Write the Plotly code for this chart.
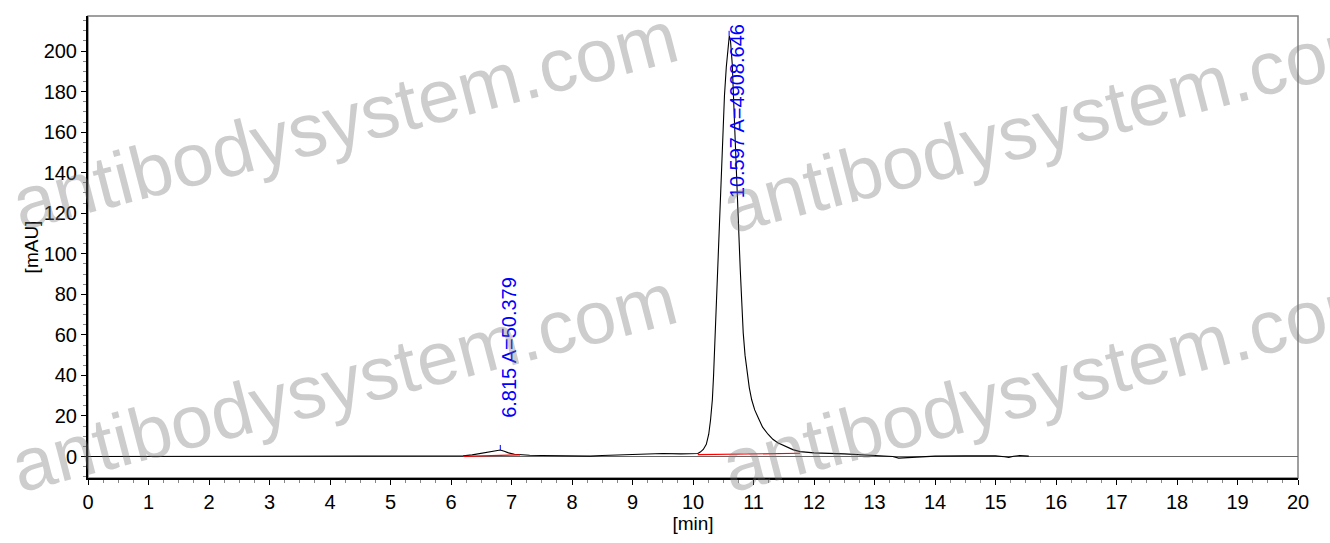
import plotly.graph_objects as go

# Chromatogram signal
time_min = [0, 6.1, 6.2, 6.35, 6.5, 6.6, 6.68, 6.75, 6.815, 6.88, 6.95, 7.05, 7.15,
            7.3, 7.5, 7.8, 8.0, 8.3, 8.5, 8.8, 9.0, 9.3, 9.5, 9.8, 10.0, 10.08,
            10.12, 10.17, 10.22, 10.26, 10.29, 10.32, 10.34, 10.36, 10.39, 10.42,
            10.44, 10.47, 10.49, 10.52, 10.55, 10.58, 10.60, 10.62, 10.65, 10.67,
            10.69, 10.71, 10.73, 10.755, 10.78, 10.805, 10.83, 10.86, 10.89, 10.93,
            10.97, 11.02, 11.08, 11.15, 11.24, 11.32, 11.4, 11.48, 11.55, 11.65,
            11.77, 11.9, 12.0, 12.5, 13.0, 13.3, 13.4, 13.5, 13.7,
            14.0, 14.5, 15.0, 15.15, 15.22, 15.3, 15.4, 15.55]
signal_mau = [0, 0, 0.3, 0.8, 1.5, 1.9, 2.2, 2.7, 3.2, 2.6, 1.8, 1.1, 0.8,
              0.6, 0.5, 0.4, 0.2, 0.2, 0.5, 0.7, 0.8, 1.1, 1.5, 1.3, 1.2, 1.5,
              2.2, 3.5, 6, 11, 18, 28, 40, 55, 82, 108,
              124, 146, 160, 178, 192, 203, 207.5, 205, 193, 177,
              160, 143, 126, 110, 93, 77, 61, 50, 42, 34,
              28, 23, 19, 14.5, 11, 8.5, 6.8, 5.6, 4.8, 3.4,
              2.4, 2.0, 1.8, 1.3, 0.7, 0, -0.8, -0.6, -0.2,
              0.2, 0.3, 0.3, -0.1, -0.4, 0.1, 0.5, 0.2]

# Integration baselines (red)
base1_t = [6.2, 7.14]
base1_v = [0.1, 0.8]
base2_t = [10.08, 11.77]
base2_v = [0.9, 1.6]

# Peak annotations
peak_rt = [6.815, 10.597]
peak_area = [50.379, 4908.646]
peak_height = [3.2, 207.5]
label_base = [18, 126.5]

x_ticks = list(range(0, 21))
y_ticks = list(range(0, 201, 20))

FONT = "Arial, Liberation Sans, sans-serif"

fig = go.Figure()
fig.add_trace(go.Scatter(x=time_min, y=signal_mau, mode="lines",
                         line=dict(color="black", width=1.1), hoverinfo="skip"))
fig.add_trace(go.Scatter(x=base1_t, y=base1_v, mode="lines",
                         line=dict(color="#ff0000", width=1.2), hoverinfo="skip"))
fig.add_trace(go.Scatter(x=base2_t, y=base2_v, mode="lines",
                         line=dict(color="#ff0000", width=1.2), hoverinfo="skip"))
for rt, h in zip(peak_rt, peak_height):
    fig.add_trace(go.Scatter(x=[rt, rt], y=[h, h + 2.5], mode="lines",
                             line=dict(color="#0000ff", width=1), hoverinfo="skip"))

annotations = []
for rt, area, yb in zip(peak_rt, peak_area, label_base):
    annotations.append(dict(x=rt, y=yb, xref="x", yref="y",
                            text=f"{rt:.3f} A={area:.3f}", showarrow=False,
                            textangle=-90, xanchor="center", yanchor="bottom",
                            xshift=8,
                            font=dict(family=FONT, size=20, color="#0000ff")))

# Watermarks (pixel centres converted to paper coords)
L, R, T, B = 88, 1298, 16, 478
def px2paper(px, py):
    return (px - L) / (R - L), (B - py) / (B - T)

for cx, cy in [(345, 120), (1055, 123), (344, 382), (1055, 382)]:
    xp, yp = px2paper(cx, cy)
    annotations.append(dict(x=xp, y=yp, xref="paper", yref="paper",
                            text="antibodysystem.com", showarrow=False,
                            textangle=-14.5, xanchor="center", yanchor="middle",
                            font=dict(family=FONT, size=75,
                                      color="rgba(120,120,120,0.37)")))

fig.update_layout(
    width=1330, height=543,
    margin=dict(l=L, r=1330 - R, t=T, b=543 - B),
    paper_bgcolor="white", plot_bgcolor="white",
    showlegend=False,
    font=dict(family=FONT, size=20, color="black"),
    annotations=annotations,
    shapes=[dict(type="rect", xref="paper", yref="paper", x0=0, x1=1, y0=0, y1=1,
                 line=dict(color="#808080", width=1.5), layer="below")],
    xaxis=dict(range=[0, 20], tickvals=x_ticks, ticks="outside", ticklen=5,
               tickcolor="black", tickwidth=1, showgrid=False, zeroline=False,
               showline=True, linecolor="black", linewidth=2,
               minor=dict(dtick=0.25, ticks="outside", ticklen=3, tickcolor="#888888"),
               title=dict(text="[min]", standoff=4, font=dict(size=19)),
               tickfont=dict(size=20)),
    yaxis=dict(range=[-10.6, 217.3], tickvals=y_ticks, ticks="outside", ticklen=5,
               tickcolor="black", tickwidth=1, showgrid=False,
               zeroline=True, zerolinecolor="#666666", zerolinewidth=1.2,
               showline=True, linecolor="black", linewidth=2,
               minor=dict(dtick=5, ticks="outside", ticklen=3, tickcolor="#888888"),
               title=dict(text="[mAU]", standoff=0, font=dict(size=19)),
               tickfont=dict(size=20)),
)

fig.write_html("out.html", config={"displayModeBar": False},
               post_script="document.body.style.margin='0';document.body.style.overflow='hidden';")
